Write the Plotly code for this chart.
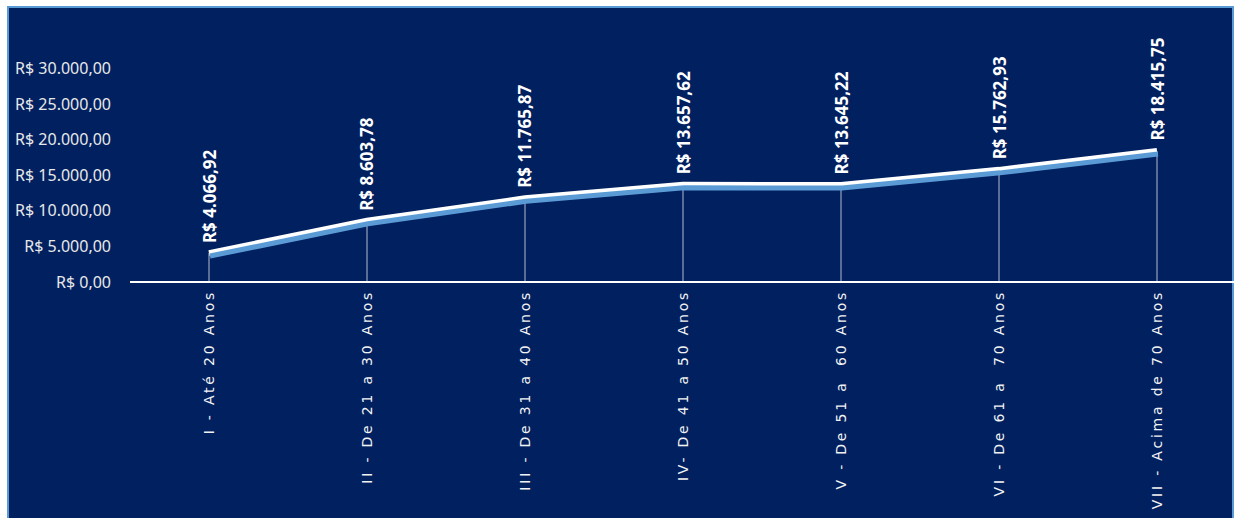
import plotly.graph_objects as go

categories = ["I - Até 20 Anos", "II - De 21 a 30 Anos", "III - De 31 a 40 Anos",
              "IV- De 41 a 50 Anos", "V - De 51 a  60 Anos", "VI - De 61 a  70 Anos",
              "VII - Acima de 70 Anos"]
values = [4066.92, 8603.78, 11765.87, 13657.62, 13645.22, 15762.93, 18415.75]
y_ticks = [0, 5000, 10000, 15000, 20000, 25000, 30000]


def brl(v):
    s = f"{v:,.2f}"
    s = s.replace(",", "X").replace(".", ",").replace("X", ".")
    return "R$ " + s


NAVY = "#002060"
W, H = 1240, 518
L, R, T, B = 130, 4, 33, 236
pw, ph = W - L - R, H - T - B
YMAX = 35000
xpos = list(range(len(categories)))

fig = go.Figure()

# drop lines
dx, dy = [], []
for i, v in zip(xpos, values):
    dx += [i, i, None]
    dy += [0, v, None]
fig.add_trace(go.Scatter(x=dx, y=dy, mode="lines",
                         line=dict(color="rgba(255,255,255,0.7)", width=1),
                         hoverinfo="skip", showlegend=False))

# shadow line (offset via shifted axes)
fig.add_trace(go.Scatter(x=xpos, y=values, mode="lines", xaxis="x2", yaxis="y2",
                         line=dict(color="#5b9bd5", width=5),
                         hoverinfo="skip", showlegend=False))
# main line
fig.add_trace(go.Scatter(x=xpos, y=values, mode="lines",
                         line=dict(color="white", width=6),
                         showlegend=False))

for i, v in zip(xpos, values):
    fig.add_annotation(x=i, y=v, text="<b>" + brl(v) + "</b>", textangle=-90,
                       showarrow=False, yanchor="bottom", xanchor="center", yshift=8,
                       font=dict(family="Noto Sans", size=17, color="white"))

sx = 1.0 * 7 / pw
sy = 3 * YMAX / ph

fig.update_layout(
    width=W, height=H,
    margin=dict(l=L, r=R, t=T, b=B),
    paper_bgcolor="white",
    plot_bgcolor="rgba(0,0,0,0)",
    xaxis=dict(range=[-0.5, 6.5], tickvals=xpos, ticktext=categories, tickangle=-90,
               showgrid=False, zeroline=False, showline=False, ticks="",
               automargin=False, ticklabelstandoff=4,
               tickfont=dict(family="DejaVu Sans", size=14, color="#f2f2f2")),
    yaxis=dict(range=[0, YMAX], tickvals=y_ticks, ticktext=[brl(v) for v in y_ticks],
               showgrid=False, zeroline=True, zerolinecolor="white", zerolinewidth=2,
               showline=False, ticks="", ticklabelstandoff=18, automargin=False,
               tickfont=dict(family="Noto Sans", size=16, color="#e8e8e8")),
    xaxis2=dict(range=[-0.5 - sx, 6.5 - sx], overlaying="x", visible=False),
    yaxis2=dict(range=[sy, YMAX + sy], overlaying="y", visible=False),
    shapes=[dict(type="rect", xref="paper", yref="paper", layer="below",
                 x0=(8 - L) / pw, x1=(1233 - L) / pw,
                 y0=(T + ph - 522) / ph, y1=(T + ph - 7) / ph,
                 fillcolor=NAVY, line=dict(color="#5b9bd5", width=2))],
)

post = """
document.body.style.margin = '0';
document.body.style.overflow = 'hidden';
var gd = document.querySelector('.plotly-graph-div');
function sp(){
  document.querySelectorAll('.xtick text').forEach(function(t){ t.style.letterSpacing='2.8px'; });
}
sp();
if (gd && gd.on) { gd.on('plotly_afterplot', sp); }
"""

fig.write_html("out.html", post_script=post, config={"displayModeBar": False})
